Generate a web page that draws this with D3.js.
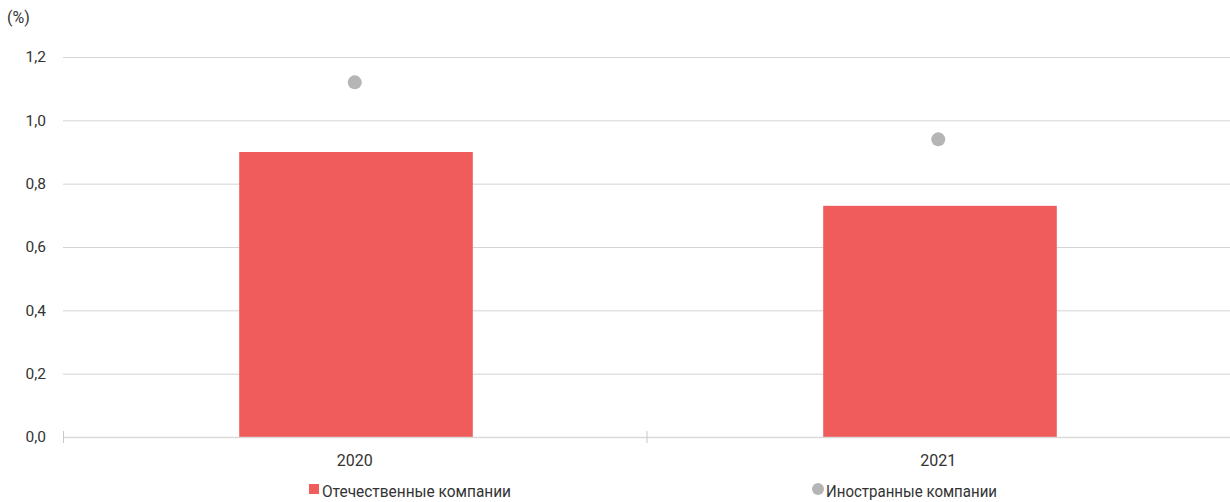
<!DOCTYPE html>
<html><head><meta charset="utf-8">
<script src="https://cdn.jsdelivr.net/npm/d3@7"></script>
<style>body{margin:0;background:#fff;}svg{display:block;font-family:Roboto,"Noto Sans",sans-serif;}</style>
</head><body>
<svg id="c" width="1230" height="502"></svg>
<script>
const categories = ["2020", "2021"];
const domestic = [0.90, 0.73];
const foreign = [1.12, 0.94];
const yTicks = [0, 0.2, 0.4, 0.6, 0.8, 1.0, 1.2];
const seriesNames = ["Отечественные компании", "Иностранные компании"];

(function () {
const svg = d3.select("#c");
const mLeft = 63, mRight = 1230, mTop = 57, mBottom = 437;
const x = d3.scaleBand().domain(categories).range([mLeft + 1, mRight + 2]).paddingInner(0.6).paddingOuter(0.3);
const xb = d3.scaleBand().domain(categories).range([mLeft, mRight]);
const y = d3.scaleLinear().domain([0, 1.2]).range([mBottom, mTop]);
const fmt = v => d3.format(".1f")(v).replace(".", ",");

// gridlines
svg.append("g").selectAll("line").data(yTicks.filter(d => d > 0)).join("line")
  .attr("x1", mLeft).attr("x2", mRight)
  .attr("y1", d => y(d) + 0.5).attr("y2", d => y(d) + 0.5)
  .attr("stroke", "#d4d4d4").attr("stroke-width", 1);

// y labels
svg.append("g").selectAll("text").data(yTicks).join("text")
  .attr("x", 46).attr("y", d => y(d)).attr("dy", "0.35em")
  .attr("text-anchor", "end").attr("font-size", 15.5).attr("fill", "#333")
  .text(fmt);

svg.append("text").attr("x", 7).attr("y", 23).attr("font-size", 16).attr("fill", "#333").text("(%)");

// bars
svg.append("g").selectAll("rect").data(categories).join("rect")
  .attr("x", d => x(d)).attr("width", x.bandwidth())
  .attr("y", (d, i) => y(domestic[i])).attr("height", (d, i) => y(0) - y(domestic[i]))
  .attr("fill", "#f05b5c");

// baseline axis
svg.append("line").attr("x1", mLeft).attr("x2", mRight).attr("y1", mBottom + 0.5).attr("y2", mBottom + 0.5)
  .attr("stroke", "#d9d9d9").attr("stroke-width", 1.5);
const bTicks = [mLeft, xb("2021")];
svg.append("g").selectAll("line").data(bTicks).join("line")
  .attr("x1", d => d + 0.5).attr("x2", d => d + 0.5).attr("y1", mBottom - 6).attr("y2", mBottom + 6)
  .attr("stroke", "#c8c8c8").attr("stroke-width", 1);

// x labels
svg.append("g").selectAll("text").data(categories).join("text")
  .attr("x", d => xb(d) + xb.bandwidth() / 2).attr("y", 466)
  .attr("text-anchor", "middle").attr("font-size", 16).attr("fill", "#333").text(d => d);

// points
svg.append("g").selectAll("circle").data(categories).join("circle")
  .attr("cx", d => xb(d) + xb.bandwidth() / 2).attr("cy", (d, i) => y(foreign[i]))
  .attr("r", 7).attr("fill", "#b5b5b6");

// legend
const lg = svg.append("g");
lg.append("rect").attr("x", 309).attr("y", 484).attr("width", 10).attr("height", 10).attr("fill", "#f05b5c");
lg.append("text").attr("x", 322).attr("y", 497).attr("font-size", 16).attr("fill", "#333")
  .attr("textLength", 189).attr("lengthAdjust", "spacingAndGlyphs").text(seriesNames[0]);
lg.append("circle").attr("cx", 818).attr("cy", 489).attr("r", 6).attr("fill", "#b5b5b6");
lg.append("text").attr("x", 826).attr("y", 497).attr("font-size", 16).attr("fill", "#333")
  .attr("textLength", 171).attr("lengthAdjust", "spacingAndGlyphs").text(seriesNames[1]);
})();
</script>
</body></html>
